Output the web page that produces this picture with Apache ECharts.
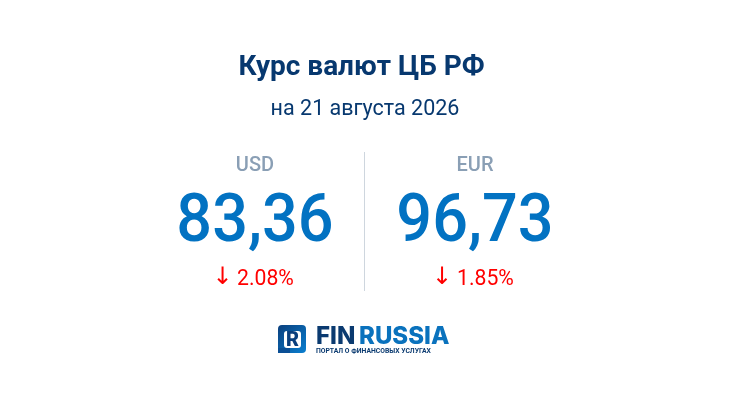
<!DOCTYPE html>
<html>
<head>
<meta charset="utf-8">
<style>
html,body{margin:0;padding:0;background:#fff}
#main{width:730px;height:410px}
</style>
<script src="https://cdn.jsdelivr.net/npm/echarts@6/dist/echarts.min.js"></script>
</head>
<body>
<div id="main"></div>
<script>
var titleText = 'Курс валют ЦБ РФ';
var dateText = 'на 21 августа 2026';
var currencies = ['USD', 'EUR'];
var rates = ['83,36', '96,73'];
var changes = ['2.08%', '1.85%'];
var arrows = ['↓', '↓'];
var logoParts = ['FIN', 'RUSSIA'];
var logoSub = 'ПОРТАЛ О ФИНАНСОВЫХ УСЛУГАХ';

var font = 'Roboto';

function label(x, y, text, size, weight, color, align, family) {
    return {
        type: 'text',
        style: {
            x: x, y: y, text: text,
            font: weight + ' ' + size + 'px ' + (family || font),
            fill: color,
            textAlign: align || 'center',
            textVerticalAlign: 'middle'
        }
    };
}

var columnX = [255, 475];
var arrowX = [222.5, 442];
var changeX = [237, 457];
var items = [
    label(361.5, 68, titleText, 28, 700, '#07386f'),
    label(365, 110, dateText, 21.5, 400, '#07386f'),
    // разделитель
    { type: 'rect', shape: { x: 364, y: 152, width: 1, height: 139 }, style: { fill: '#ced6de' } }
];

currencies.forEach(function (c, i) {
    items.push(label(columnX[i], 166, c, 20, 500, '#8a9fb5'));
    // цифры в оригинале чуть вытянуты по высоте
    var rate = label(columnX[i], 0, rates[i], 63, 500, '#0272c2');
    rate.y = 224;
    rate.scaleY = 1.06;
    items.push(rate);
    items.push(label(arrowX[i], 278, arrows[i], 24, 400, '#ff0000', 'center', 'DejaVu Sans'));
    items.push(label(changeX[i], 280, changes[i], 21.2, 400, '#ff0000', 'left'));
});

// логотип
var logoGradient = new echarts.graphic.LinearGradient(0, 0, 1, 1, [
    { offset: 0, color: '#0a3f7d' },
    { offset: 1, color: '#0a7fd0' }
]);
items.push({
    type: 'rect',
    shape: { x: 278, y: 325, width: 28, height: 28, r: 4 },
    style: { fill: logoGradient }
});
items.push({
    type: 'rect',
    shape: { x: 284, y: 331, width: 17, height: 17, r: 3 },
    style: { fill: '#ffffff' }
});
items.push(label(292.5, 340.5, 'R', 20, 900, '#0a3f7d'));
items.push({
    type: 'rect',
    shape: { x: 278, y: 348, width: 12, height: 5 },
    style: { fill: '#0a4f95' }
});
items.push(label(316, 337, logoParts[0], 24, 800, '#0a3a70', 'left', 'Inter'));
items.push(label(359, 337, logoParts[1], 24, 800, '#0a72bd', 'left', 'Inter'));
items.push(label(316, 351, logoSub, 6.8, 700, '#0a3a70', 'left'));

var chart = echarts.init(document.getElementById('main'));
chart.setOption({
    backgroundColor: '#ffffff',
    animation: false,
    graphic: { elements: items }
});
</script>
</body>
</html>
